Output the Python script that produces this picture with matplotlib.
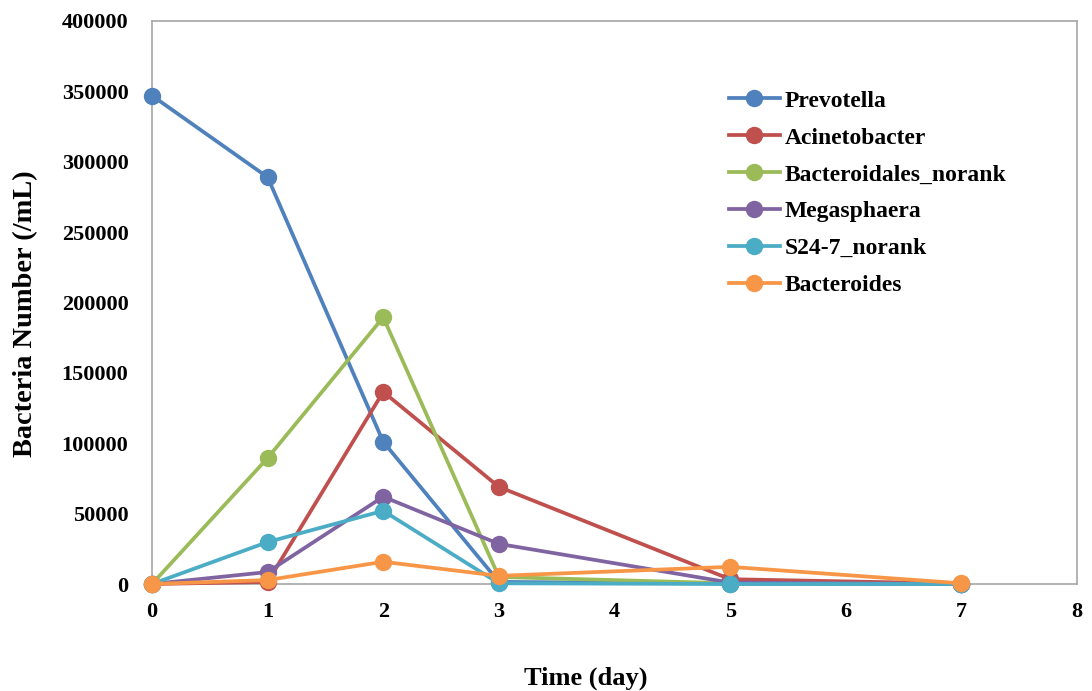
import matplotlib.pyplot as plt

# data
days = [0, 1, 2, 3, 5, 7]
prevotella = [347000, 289000, 101000, 1500, 300, 0]
acinetobacter = [0, 1500, 136500, 69000, 3400, 300]
bacteroidales_norank = [0, 89500, 189500, 5000, 500, 0]
megasphaera = [0, 8500, 62000, 28500, 1000, 0]
s24_7_norank = [0, 29800, 52000, 500, 0, 0]
bacteroides = [0, 2800, 15800, 5800, 12200, 500]

series = [
    ("Prevotella", prevotella, "#4F81BD"),
    ("Acinetobacter", acinetobacter, "#C0504D"),
    ("Bacteroidales_norank", bacteroidales_norank, "#9BBB59"),
    ("Megasphaera", megasphaera, "#8064A2"),
    ("S24-7_norank", s24_7_norank, "#4BACC6"),
    ("Bacteroides", bacteroides, "#F79646"),
]

plt.rcParams['font.family'] = ['Liberation Serif', 'DejaVu Serif']
plt.rcParams['font.weight'] = 'bold'

fig = plt.figure(figsize=(10.92, 6.91), dpi=100)
ax = fig.add_axes([152 / 1092, 107 / 691, 925 / 1092, 563 / 691])

for name, vals, color in series:
    ax.plot(days, vals, '-o', color=color, lw=2.7, markersize=11.5,
            label=name, clip_on=False, zorder=3)

ax.set_xlim(0, 8)
ax.set_ylim(0, 400000)
ax.set_xticks(range(0, 9))
ax.set_yticks(range(0, 400001, 50000))
ax.tick_params(length=0, labelsize=16)
ax.tick_params(axis='y', pad=17)
ax.tick_params(axis='x', pad=13)
for lab in ax.get_xticklabels() + ax.get_yticklabels():
    lab.set_fontweight('bold')

for sp in ax.spines.values():
    sp.set_color('#A6A6A6')
    sp.set_linewidth(1.2)

ax.set_xlabel('Time (day)', fontsize=19, fontweight='bold', labelpad=32)
ax.xaxis.label.set_x(0.469)
ax.set_ylabel('Bacteria Number (/mL)', fontsize=20.4, fontweight='bold', labelpad=17)
ax.yaxis.label.set_y(0.481)

leg = ax.legend(loc='upper left', bbox_to_anchor=(0.6135, 0.894), frameon=False,
                fontsize=17, handlelength=2.15, handletextpad=0.22,
                labelspacing=0.65, borderaxespad=0)
for t in leg.get_texts():
    t.set_fontweight('bold')

fig.savefig('out.png', dpi=100)
